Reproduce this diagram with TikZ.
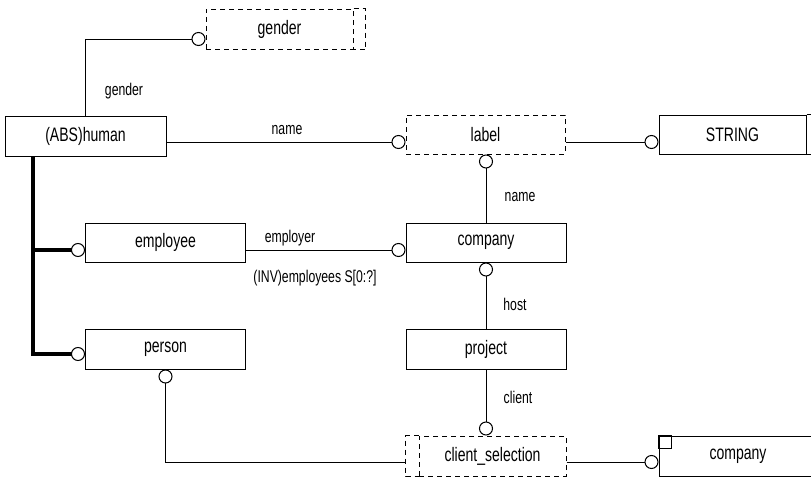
\documentclass[tikz,border=0pt]{standalone}
\usepackage{fontspec}
\setmainfont{Liberation Sans}[FakeStretch=0.72]
\usetikzlibrary{arrows.meta}
\newcommand{\boxfont}{\fontsize{19.5}{21}\selectfont}
\newcommand{\relfont}{\fontsize{17}{19}\selectfont}
\begin{document}
\begin{tikzpicture}[x=1pt,y=-1pt,line width=1pt,
  ent/.style={draw, rectangle, inner sep=0pt, minimum height=40pt, font=\boxfont},
  wide/.style={ent, minimum width=160pt},
  narrow/.style={ent, minimum width=147pt},
  dashbox/.style={dash pattern=on 5pt off 4pt},
  ring/.tip={Circle[open,length=14pt,width=14pt,line width=1pt]},
  rel/.style={-ring},
  sub/.style={line width=4pt,-ring},
  lbl/.style={font=\relfont, inner sep=0pt}]
\useasboundingbox (0,0) rectangle (811,479);
\clip (0,0) rectangle (811,479);

% entities and types
\node[wide, minimum width=161pt] (human) at (85.5,136) {(ABS)human};
\node[narrow, dashbox] (gender) at (279.5,29) {gender};
\draw[dashbox] (gender.north east) -- ++(12,0) |- (gender.south east);
\node[wide, dashbox, minimum width=159pt, minimum height=39pt] (label) at (485.5,134.5) {label};
\node[ent, minimum width=147pt, minimum height=39pt] (string) at (732.5,134.5) {STRING};
\draw (string.north east) -- ++(20,0) (string.south east) -- ++(20,0);
\node[wide, minimum height=39pt] (employee) at (165.5,242.5) {employee};
\node[wide, minimum height=39pt] (company) at (486,242.5) {company};
\node[wide] (person) at (165.5,349) {person};
\node[wide] (project) at (486,349) {project};
\node[narrow, dashbox] (selection) at (492.5,456) {client\_selection};
\draw[dashbox] (selection.north west) -- ++(-13,0) |- (selection.south west);
\node[ent, minimum width=158pt] (company2) at (738,456) {company};
\draw (company2.north west) rectangle ++(13,13);

% attributes
\draw[rel] (human.north) |- ([yshift=-10pt]gender.west);
\node[lbl] (lgender) at (124,91) {gender};
\draw[rel] ([yshift=-6pt]human.east) -- ([yshift=-6pt]human.east -| label.west);
\node[lbl] (lname1) at (287,130) {name};
\draw[rel] ([yshift=-7.5pt]label.east) -- ([yshift=-7.5pt]label.east -| string.west);
\draw[rel] (company.north) -- (company.north |- label.south);
\node[lbl] (lname2) at (520,197) {name};
\draw[rel] ([yshift=-7.5pt]employee.east) -- ([yshift=-7.5pt]employee.east -| company.west);
\node[lbl] (lemployer) at (290,238) {employer};
\node[lbl] (linv) at (315,278) {(INV)employees S[0:?]};
\draw[rel] (project.north) -- (company.south);
\node[lbl] (lhost) at (515,304) {host};
\draw[rel] (project.south) -- (project.south |- selection.north);
\node[lbl] (lclient) at (518,397) {client};
\draw[rel] ([xshift=-13pt,yshift=-6pt]selection.west) -| (person.south);
\draw[rel] ([yshift=-6pt]selection.east) -- ([yshift=-6pt]selection.east -| company2.west);

% subtype tree
\coordinate (root) at ([xshift=28pt]human.south west);
\draw[sub] (root) |- ([yshift=-7.5pt]employee.west);
\draw[sub] (root) |- ([yshift=-5pt]person.west);
\end{tikzpicture}
\end{document}
